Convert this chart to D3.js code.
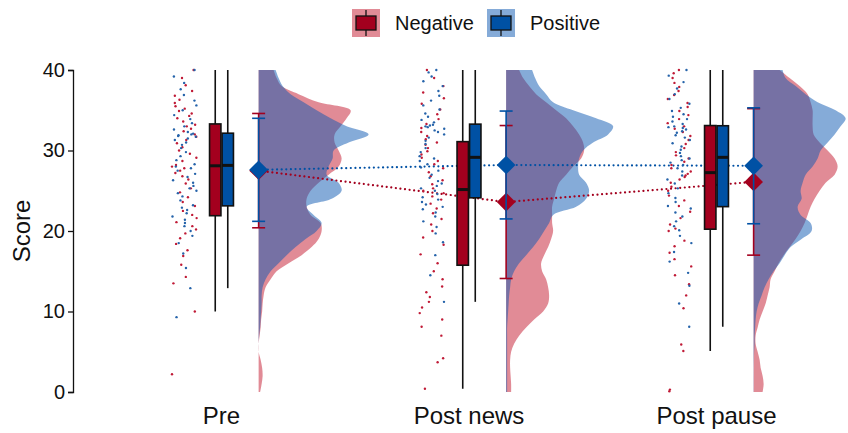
<!DOCTYPE html>
<html>
<head>
<meta charset="utf-8">
<script src="https://cdn.jsdelivr.net/npm/d3@7"></script>
<style>
  body { margin: 0; background: #fff; }
  svg { display: block; font-family: "Liberation Sans", Arial, sans-serif; }
</style>
</head>
<body>
<svg id="chart" width="848" height="433"></svg>
<script>
// region data
const times = ['Pre', 'Post news', 'Post pause'];
const groups = ['Negative', 'Positive'];
const yTicks = [0, 10, 20, 30, 40];

// individual scores (sorted), one array per group and time
const negPre = [2.2, 10.0, 13.5, 14.3, 15.8, 16.9, 17.6, 18.4, 19.1, 19.7, 20.2, 20.6, 21.1, 21.6,
  22.0, 22.5, 23.1, 23.6, 24.2, 24.8, 25.3, 25.9, 26.4, 26.8, 27.2, 27.5, 27.8, 28.0,
  28.2, 28.7, 29.1, 29.6, 30.0, 30.4, 30.9, 31.3, 31.7, 32.0, 32.4, 32.7, 33.0, 33.2,
  33.6, 34.0, 34.3, 34.6, 34.9, 35.2, 35.5, 35.9, 36.3, 36.8, 37.4, 38.1, 39.0, 40.0];
const posPre = [9.3, 12.9, 15.4, 17.2, 18.5, 19.4, 20.0, 20.6, 21.0, 21.4, 21.8, 22.2, 22.6, 22.9,
  23.2, 23.8, 24.3, 24.7, 25.0, 25.3, 25.6, 26.0, 26.3, 26.7, 27.1, 27.5, 27.8, 28.0,
  28.3, 28.8, 29.3, 29.8, 30.3, 30.7, 31.0, 31.3, 31.5, 31.7, 31.8, 31.9, 32.0, 32.1,
  32.3, 32.6, 33.0, 33.4, 33.9, 34.4, 35.0, 35.6, 36.2, 36.9, 37.6, 38.4, 39.2, 40.0];
const negNews = [0.4, 3.7, 4.2, 7.0, 8.1, 9.0, 9.8, 10.5, 11.2, 11.8, 12.4, 13.1, 14.0, 15.0,
  16.0, 17.1, 18.3, 19.2, 20.0, 20.8, 21.5, 22.2, 22.8, 23.4, 23.9, 24.3, 24.7, 25.0,
  25.3, 25.8, 26.3, 26.8, 27.3, 27.8, 28.3, 28.7, 29.1, 29.5, 29.9, 30.3, 30.7, 31.0,
  31.4, 31.8, 32.3, 32.8, 33.3, 33.9, 34.5, 35.1, 35.8, 36.5, 37.2, 38.0, 39.0, 40.0];
const posNews = [11.2, 14.5, 17.0, 18.6, 19.7, 20.5, 21.2, 21.8, 22.3, 22.7, 23.0, 23.3, 23.6, 23.9,
  24.2, 24.6, 25.0, 25.3, 25.6, 25.9, 26.2, 26.6, 27.0, 27.5, 27.9, 28.3, 28.7, 29.0,
  29.3, 29.8, 30.3, 30.8, 31.2, 31.6, 32.0, 32.3, 32.5, 32.7, 32.9, 33.0, 33.1, 33.2,
  33.5, 33.8, 34.2, 34.6, 35.1, 35.6, 36.2, 36.8, 37.4, 38.0, 38.6, 39.2, 39.7, 40.0];
const negPause = [0.1, 0.3, 5.1, 5.9, 10.4, 12.0, 13.4, 14.5, 15.6, 16.5, 17.3, 18.1, 18.8, 20.0,
  20.3, 20.8, 21.6, 22.4, 23.1, 23.8, 24.4, 25.0, 25.5, 26.0, 26.4, 26.7, 26.9, 27.1,
  27.4, 27.8, 28.2, 28.6, 29.0, 29.4, 29.8, 30.3, 30.8, 31.3, 31.8, 32.3, 32.7, 33.0,
  33.4, 33.9, 34.4, 34.9, 35.4, 35.9, 36.4, 36.9, 37.4, 37.9, 38.4, 39.0, 39.6, 40.0];
const posPause = [8.1, 11.0, 13.2, 14.8, 16.2, 17.4, 18.5, 19.4, 20.1, 20.6, 21.2, 21.8, 22.3, 22.8,
  23.1, 23.6, 24.1, 24.7, 25.3, 25.9, 26.4, 26.9, 27.4, 27.8, 28.2, 28.5, 28.8, 29.0,
  29.3, 29.7, 30.1, 30.5, 30.9, 31.3, 31.6, 31.9, 32.2, 32.4, 32.6, 32.8, 32.9, 33.0,
  33.3, 33.6, 33.9, 34.2, 34.5, 34.9, 35.3, 35.8, 36.4, 37.0, 37.7, 38.5, 39.3, 40.0];

// mean and sd per time
const meanNeg = [27.5, 23.6, 26.1];
const sdNeg = [7.1, 9.5, 9.1];
const meanPos = [27.6, 28.2, 28.1];
const sdPos = [6.4, 6.7, 7.2];

// estimated density (relative), evaluated at scores 0..40
const densGrid = [0, 1, 2, 3, 4, 5, 6, 7, 8, 9, 10, 11, 12, 13, 14, 15, 16, 17, 18, 19, 20,
  21, 22, 23, 24, 25, 26, 27, 28, 29, 30, 31, 32, 33, 34, 35, 36, 37, 38, 39, 40];
const densNegPre = [1.5, 3, 4, 3.5, 2, 0, 0, 1, 2, 2.5, 3.5, 4, 5, 7, 12, 18, 30, 43, 53, 60, 63,
  62, 52, 48, 48, 52, 60, 70, 80, 83, 80, 76, 76, 82, 88, 92, 60, 40, 23, 18, 15];
const densPosPre = [0, 0, 0, 0, 0, 0, 0, 0.5, 1.5, 2, 2.5, 3, 3, 4, 7, 12, 20, 28, 37, 47, 58,
  63, 55, 48, 73, 83, 80, 68, 70, 74, 75, 90, 110, 88, 72, 58, 45, 32, 24, 20, 17];
const densNegNews = [5, 5, 4.5, 4, 4, 5, 8, 13, 20, 28, 37, 42, 43, 42, 40, 36, 35, 38, 42, 45, 47,
  46, 46, 46, 48, 50, 53, 60, 67, 75, 78, 77, 73, 67, 60, 50, 40, 30, 23, 17, 13];
const densPosNews = [1, 1, 1, 1, 1, 1, 1, 1, 1, 1.5, 2, 2.5, 3, 4, 5, 8, 13, 20, 27, 33, 38,
  43, 47, 70, 80, 83, 80, 73, 72, 73, 77, 87, 102, 107, 90, 67, 47, 40, 33, 29, 26];
const densNegPause = [9, 10, 9, 7, 6, 4, 2, 2, 4, 6, 9, 12, 14, 16, 17, 21, 25, 30, 36, 42, 47,
  51, 54, 57, 61, 66, 72, 81, 84, 81, 74, 66, 60, 59, 59, 59, 57, 54, 46, 36, 26];
const densPosPause = [0.2, 0.2, 0.2, 0.2, 0.3, 0.5, 1, 1, 1.5, 2, 3, 5, 8, 11, 15, 20, 26, 31, 37, 48, 58,
  57, 47, 44, 48, 47, 49, 52, 59, 64, 67, 74, 81, 87, 92, 82, 64, 52, 42, 32, 29];
// endregion

const scores = {Negative: [negPre, negNews, negPause], Positive: [posPre, posNews, posPause]};
const dens = {Negative: [densNegPre, densNegNews, densNegPause], Positive: [densPosPre, densPosNews, densPosPause]};
const means = {Negative: meanNeg, Positive: meanPos};
const sds = {Negative: sdNeg, Positive: sdPos};

const dark = {Negative: '#A3001E', Positive: '#0051A4'};
const fill = {Negative: '#C4182E', Positive: '#0B57B1'};
const dotCol = {Negative: '#C01A36', Positive: '#2563AA'};

const svg = d3.select('#chart');
svg.append('rect').attr('width', 848).attr('height', 433).attr('fill', '#fff');

const x = d3.scaleLinear().domain([0.4, 3.6]).range([73, 865]);
const y = d3.scaleLinear().domain([0, 40]).range([392, 70]);
const w = d3.scaleLinear().domain([0, 100]).range([0, x(1.404) - x(1)]);

const jitterOff = -0.15, violinOff = 0.15, dodge = 0.0253, boxW = 0.046;

// horizontal jitter only (position, not data): deterministic hash so the dots look scattered
const jitter = (i, gi, ti) => {
  const s = Math.sin(i * 12.9898 + gi * 78.233 + ti * 37.719) * 43758.5453;
  return s - Math.floor(s);
};

// violins
times.forEach((t, ti) => {
  const base = x(ti + 1 + violinOff);
  groups.forEach(g => {
    const pts = densGrid.map((s, i) => [s, dens[g][ti][i]]);
    const area = d3.area()
      .curve(d3.curveCatmullRom.alpha(0.5))
      .y(d => y(d[0]))
      .x0(base)
      .x1(d => base + w(d[1]));
    svg.append('path')
      .attr('d', area(pts))
      .attr('fill', fill[g])
      .attr('fill-opacity', 0.5);
  });
});

// mean lines (dotted)
groups.forEach(g => {
  const line = d3.line()
    .x((d, i) => x(i + 1 + violinOff))
    .y(d => y(d));
  svg.append('path')
    .attr('d', line(means[g]))
    .attr('fill', 'none')
    .attr('stroke', dark[g])
    .attr('stroke-width', 2.2)
    .attr('stroke-linecap', 'round')
    .attr('stroke-dasharray', '0.01 4.6');
});

// jittered raw points
times.forEach((t, ti) => {
  groups.forEach((g, gi) => {
    svg.append('g').selectAll('circle')
      .data(scores[g][ti])
      .join('circle')
      .attr('cx', (d, i) => x(ti + 1 + jitterOff + (jitter(i, gi, ti) - 0.5) * 0.1))
      .attr('cy', d => y(d))
      .attr('r', 1.2)
      .attr('fill', dotCol[g]);
  });
});

// boxplots
times.forEach((t, ti) => {
  groups.forEach((g, gi) => {
    const v = scores[g][ti].slice().sort(d3.ascending);
    const q1 = d3.quantile(v, 0.25), med = d3.quantile(v, 0.5), q3 = d3.quantile(v, 0.75);
    const iqr = q3 - q1;
    const lo = d3.min(v.filter(d => d >= q1 - 1.5 * iqr));
    const hi = d3.max(v.filter(d => d <= q3 + 1.5 * iqr));
    const cx = ti + 1 + (gi === 0 ? -dodge : dodge);
    const bx = svg.append('g');
    bx.append('line')
      .attr('x1', x(cx)).attr('x2', x(cx))
      .attr('y1', y(hi)).attr('y2', y(lo))
      .attr('stroke', '#111').attr('stroke-width', 1.6);
    bx.append('rect')
      .attr('x', x(cx - boxW / 2)).attr('width', x(cx + boxW / 2) - x(cx - boxW / 2))
      .attr('y', y(q3)).attr('height', y(q1) - y(q3))
      .attr('fill', dark[g])
      .attr('stroke', '#111').attr('stroke-width', 1.6);
    bx.append('line')
      .attr('x1', x(cx - boxW / 2)).attr('x2', x(cx + boxW / 2))
      .attr('y1', y(med)).attr('y2', y(med))
      .attr('stroke', '#111').attr('stroke-width', 3);
  });
});

// error bars and means
const diamond = d3.symbol(d3.symbolSquare, 175);
groups.forEach(g => {
  times.forEach((t, ti) => {
    const cx = x(ti + 1 + violinOff);
    const m = means[g][ti], s = sds[g][ti];
    const eb = svg.append('g').attr('stroke', dark[g]).attr('stroke-width', 1.6);
    eb.append('line').attr('x1', cx).attr('x2', cx).attr('y1', y(m + s)).attr('y2', y(m - s));
    [m + s, m - s].forEach(e => {
      eb.append('line').attr('x1', cx - 6.5).attr('x2', cx + 6.5).attr('y1', y(e)).attr('y2', y(e));
    });
    svg.append('path')
      .attr('d', diamond())
      .attr('transform', `translate(${cx},${y(m)}) rotate(45)`)
      .attr('fill', dark[g]);
  });
});

// y axis
const yAxis = d3.axisLeft(y).tickValues(yTicks).tickSize(5).tickPadding(3);
const ya = svg.append('g').attr('transform', 'translate(73,0)').call(yAxis);
ya.select('.domain').attr('stroke', '#111').attr('stroke-width', 1.3);
ya.selectAll('.tick line').attr('stroke', '#111').attr('stroke-width', 1.3);
ya.selectAll('.tick text').attr('font-size', 20).attr('fill', '#111')
  .attr('font-family', '"Liberation Sans", Arial, sans-serif');

svg.append('text')
  .attr('transform', 'translate(30,231) rotate(-90)')
  .attr('text-anchor', 'middle')
  .attr('font-size', 24)
  .attr('fill', '#111')
  .text('Score');

// x labels
svg.append('g').selectAll('text')
  .data(times)
  .join('text')
  .attr('x', (d, i) => x(i + 1))
  .attr('y', 424)
  .attr('text-anchor', 'middle')
  .attr('font-size', 24)
  .attr('fill', '#111')
  .text(d => d);

// legend
const keyX = [352, 487];
groups.forEach((g, gi) => {
  const k = svg.append('g').attr('transform', `translate(${keyX[gi]},9)`);
  k.append('rect').attr('width', 28).attr('height', 28)
    .attr('fill', fill[g]).attr('fill-opacity', 0.5);
  k.append('line').attr('x1', 14).attr('x2', 14).attr('y1', 1).attr('y2', 27)
    .attr('stroke', '#111').attr('stroke-width', 1.3);
  k.append('rect').attr('x', 4).attr('y', 7).attr('width', 20).attr('height', 14)
    .attr('fill', dark[g]).attr('stroke', '#111').attr('stroke-width', 1.3);
  k.append('text').attr('x', 43).attr('y', 14).attr('dy', '0.35em')
    .attr('font-size', 20).attr('fill', '#111').text(g);
});
</script>
</body>
</html>
